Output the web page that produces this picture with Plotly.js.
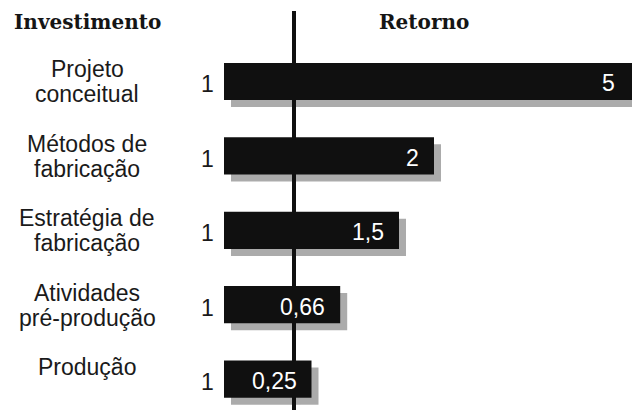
<!DOCTYPE html>
<html>
<head>
<meta charset="utf-8">
<script src="https://cdn.plot.ly/plotly-3.0.1.min.js"></script>
<style>
  html, body { margin: 0; padding: 0; background: #ffffff; }
  #chart { width: 632px; height: 410px; }
</style>
</head>
<body>
<div id="chart"></div>
<script>
// Stages of product development: investment of 1 unit vs. return obtained
const stages = ['Projeto<br>conceitual', 'Métodos de<br>fabricação', 'Estratégia de<br>fabricação', 'Atividades<br>pré-produção', 'Produção'];
const investment = [1, 1, 1, 1, 1];
const returns = [5, 2, 1.5, 0.66, 0.25];
const returnLabels = ['5', '2', '1,5', '0,66', '0,25'];
const investmentLabels = ['1', '1', '1', '1', '1'];
const headings = ['Investimento', 'Retorno'];

const barColor = '#101010';
const shadowColor = '#ababab';
const barWidth = 0.5;
const shadowDx = 0.1;     // horizontal drop-shadow offset, axis units
const shadowDy = 0.094;   // vertical drop-shadow offset, category units
const xRange = [-4.2, 4.8286];
const yRange = [4.415, -1.095];
const labelSize = 23;
const lineGap = 25;       // px between the lines of a stage name

const sans = '"Liberation Sans", Arial, sans-serif';
const serif = '"DejaVu Serif", serif';

function barTrace(values, base, color, offset) {
  return {
    type: 'bar',
    orientation: 'h',
    y: stages,
    x: values,
    base: base,
    width: barWidth,
    offset: offset,
    marker: { color: color, line: { width: 0 } },
    hoverinfo: 'skip',
    showlegend: false
  };
}

const negInvest = investment.map(v => -v);
const traces = [
  barTrace(negInvest, shadowDx, shadowColor, -barWidth / 2 + shadowDy),
  barTrace(returns, shadowDx, shadowColor, -barWidth / 2 + shadowDy),
  barTrace(negInvest, 0, barColor, -barWidth / 2),
  barTrace(returns, 0, barColor, -barWidth / 2)
];

const annotations = [];
stages.forEach((s, i) => {
  // stage name, left column, one annotation per line for tight leading
  s.split('<br>').forEach((line, k) => {
    annotations.push({
      xref: 'paper', yref: 'y', x: 87 / 632, y: s,
      text: line, showarrow: false, xanchor: 'center', yanchor: 'middle',
      yshift: 12 - lineGap * k,
      font: { family: sans, size: labelSize, color: '#1a1a1a' }
    });
  });
  // invested amount, left of the bar
  annotations.push({
    xref: 'x', yref: 'y', x: -investment[i], y: s,
    text: investmentLabels[i], showarrow: false, xanchor: 'right', yanchor: 'middle',
    xshift: -8, yshift: -3,
    font: { family: sans, size: labelSize, color: '#1a1a1a' }
  });
  // return value, inside the bar end
  annotations.push({
    xref: 'x', yref: 'y', x: Math.min(returns[i], xRange[1]), y: s,
    text: returnLabels[i], showarrow: false, xanchor: 'right', yanchor: 'middle',
    xshift: returns[i] > xRange[1] ? -15 : -13, yshift: -2,
    font: { family: sans, size: labelSize, color: '#ffffff' }
  });
});

annotations.push({
  xref: 'paper', yref: 'paper', x: 87 / 632, y: 1 - 22 / 410,
  text: '<b>' + headings[0] + '</b>', showarrow: false, xanchor: 'center', yanchor: 'middle',
  font: { family: serif, size: 20, color: '#151515' }
});
annotations.push({
  xref: 'paper', yref: 'paper', x: 424 / 632, y: 1 - 22 / 410,
  text: '<b>' + headings[1] + '</b>', showarrow: false, xanchor: 'center', yanchor: 'middle',
  font: { family: serif, size: 20, color: '#151515' }
});

const layout = {
  width: 632,
  height: 410,
  margin: { l: 0, r: 0, t: 0, b: 0, pad: 0 },
  paper_bgcolor: '#ffffff',
  plot_bgcolor: '#ffffff',
  barmode: 'overlay',
  showlegend: false,
  xaxis: {
    range: xRange, showgrid: false, zeroline: false,
    showticklabels: false, ticks: '', showline: false, fixedrange: true
  },
  yaxis: {
    type: 'category', categoryarray: stages, range: yRange,
    showgrid: false, zeroline: false, showticklabels: false,
    ticks: '', showline: false, fixedrange: true
  },
  shapes: [{
    type: 'line', xref: 'x', yref: 'paper',
    x0: 0, x1: 0, y0: 0, y1: 1 - 11 / 410,
    line: { color: '#101010', width: 4 },
    layer: 'above'
  }],
  annotations: annotations
};

Plotly.newPlot('chart', traces, layout, { displayModeBar: false, staticPlot: true });
</script>
</body>
</html>
